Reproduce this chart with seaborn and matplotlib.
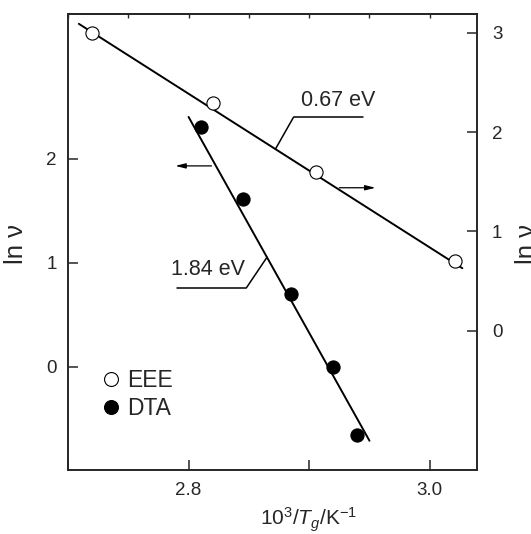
import seaborn as sns
import matplotlib.pyplot as plt
from matplotlib.lines import Line2D
import numpy as np
import pandas as pd

# EEE points (right axis) and DTA points (left axis)
eee_x = [2.720, 2.820, 2.906, 3.021]
eee_lnv = [3.00, 2.29, 1.60, 0.70]
dta_x = [2.810, 2.845, 2.885, 2.920, 2.940]
dta_lnv = [2.30, 1.61, 0.70, 0.00, -0.65]

# straight lines as drawn in the figure (end points)
eee_line_x = [2.709, 3.027]
eee_line_lnv = [3.09, 0.63]
dta_line_x = [2.800, 2.950]
dta_line_lnv = [2.40, -0.71]
eee_energy = '0.67 eV'
dta_energy = '1.84 eV'

sns.set_style('ticks')
plt.rcParams['font.family'] = ['Liberation Sans', 'DejaVu Sans']
plt.rcParams['mathtext.fontset'] = 'custom'
plt.rcParams['mathtext.rm'] = 'Liberation Sans'
plt.rcParams['mathtext.it'] = 'Liberation Sans:italic'

eee = pd.DataFrame({'x': eee_x, 'y': eee_lnv})
dta = pd.DataFrame({'x': dta_x, 'y': dta_lnv})

fig = plt.figure(figsize=(5.31, 5.34), dpi=100)
ax = fig.add_axes([0.128, 0.120, 0.770, 0.854])
ax2 = ax.twinx()

sns.lineplot(x=dta_line_x, y=dta_line_lnv, ax=ax, color='black', lw=1.4)
sns.lineplot(x=eee_line_x, y=eee_line_lnv, ax=ax2, color='black', lw=1.4)

sns.scatterplot(data=dta, x='x', y='y', ax=ax, color='black', s=90,
                edgecolor='black', linewidth=0.8, zorder=3)
sns.scatterplot(data=eee, x='x', y='y', ax=ax2, color='white', s=90,
                edgecolor='black', linewidth=0.8, zorder=3)

ax.set_xlim(2.7, 3.039)
ax.set_ylim(-0.99, 3.39)
ax2.set_ylim(-1.40, 3.19)

ax.set_xticks([2.8, 3.0])
ax.set_xticks([2.7, 2.9], minor=True)
ax.xaxis.set_major_formatter('{x:.1f}')
ax.set_yticks([0, 1, 2])
ax2.set_yticks([0, 1, 2, 3])
ax.tick_params(which='both', direction='in', length=7, width=1.1, labelsize=13.5)
ax.tick_params(axis='x', which='both', pad=9)
ax.tick_params(axis='y', pad=8)
ax2.tick_params(direction='in', length=7, width=1.1, labelsize=13.5, pad=11)

top = ax.secondary_xaxis('top')
top.set_xticks(np.arange(2.70, 3.001, 0.05))
top.tick_params(direction='in', length=3, width=1.0, labeltop=False)

for a in (ax, ax2):
    for s in a.spines.values():
        s.set_linewidth(1.2)
top.spines['top'].set_linewidth(1.2)

# energy labels with leader lines
lead = dict(arrowstyle='-', lw=1.1, color='black', shrinkA=0, shrinkB=0)
ax2.annotate('', xy=(2.872, np.interp(2.872, eee_line_x, eee_line_lnv)),
             xytext=(2.887, 2.15), arrowprops=lead)
ax2.plot([2.887, 2.945], [2.15, 2.15], color='black', lw=1.1)
ax2.text(2.893, 2.21, eee_energy, fontsize=15.5, ha='left', va='bottom')

ax.annotate('', xy=(2.865, np.interp(2.865, dta_line_x, dta_line_lnv)),
            xytext=(2.848, 0.76), arrowprops=lead)
ax.plot([2.790, 2.848], [0.76, 0.76], color='black', lw=1.1)
ax.text(2.847, 0.83, dta_energy, fontsize=15.5, ha='right', va='bottom')

# axis-pointer arrows
arr = dict(arrowstyle='-|>,head_length=0.6,head_width=0.15', color='black', lw=0.9,
           shrinkA=0, shrinkB=0)
ax.annotate('', xy=(2.789, 1.93), xytext=(2.819, 1.93), arrowprops=arr)
ax2.annotate('', xy=(2.955, 1.44), xytext=(2.925, 1.44), arrowprops=arr)

handles = [
    Line2D([], [], marker='o', ls='', mfc='white', mec='black', ms=10, mew=0.8, label='EEE'),
    Line2D([], [], marker='o', ls='', mfc='black', mec='black', ms=10, mew=0.8, label='DTA'),
]
ax2.legend(handles=handles, loc='upper left', bbox_to_anchor=(0.077, 0.222), frameon=False,
           fontsize=16.5, handlelength=1.0, handletextpad=0.2, labelspacing=0.25,
           borderaxespad=0, borderpad=0)

ax.set_ylabel('ln ν', fontsize=18.5)
ax.yaxis.set_label_coords(-0.098, 0.495)
ax2.set_ylabel('ln ν', fontsize=18.5)
ax2.yaxis.set_label_coords(1.093, 0.495)
ax.set_xlabel(r'$\mathrm{10^3/}\mathit{T}_{\mathit{g}}\mathrm{/K^{-1}}$', fontsize=15)
ax.xaxis.set_label_coords(0.589, -0.079)

fig.savefig('out.png', dpi=100)
